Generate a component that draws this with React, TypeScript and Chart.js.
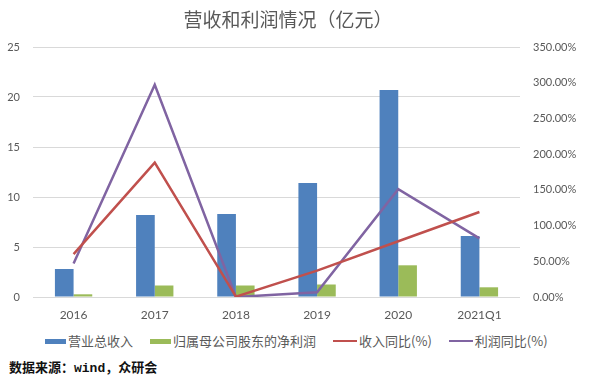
import React, { useEffect, useRef } from "react";
import { Chart, registerables } from "chart.js";

Chart.register(...registerables);

const titleText = "营收和利润情况（亿元）";
const sourceText = "数据来源：wind，众研会";
const categories = ["2016", "2017", "2018", "2019", "2020", "2021Q1"];
const revenue = [2.8, 8.2, 8.3, 11.4, 20.7, 6.1];
const netProfit = [0.27, 1.15, 1.15, 1.25, 3.17, 0.97];
const revenueYoY = [60, 188, 0.5, 37, 78, 119];
const profitYoY = [47, 297, 0, 6.6, 151, 82];
const leftTicks = [0, 5, 10, 15, 20, 25];
const rightTicks = [0, 50, 100, 150, 200, 250, 300, 350];
const seriesNames = ["营业总收入", "归属母公司股东的净利润", "收入同比(%)", "利润同比(%)"];
const seriesColors = ["#4F81BD", "#9BBB59", "#C0504D", "#8064A2"];
const seriesKinds = ["bar", "bar", "line", "line"];

const TEXT_GRAY = "#595959";
const AXIS_FONT = "Lato, 'Open Sans', sans-serif";
const CJK_FONT = "'Noto Sans CJK SC', 'Noto Sans', sans-serif";

export default function App() {
  const canvasRef = useRef<HTMLCanvasElement | null>(null);

  useEffect(() => {
    const canvas = canvasRef.current;
    if (!canvas) return;
    const chart = new Chart(canvas, {
      type: "bar",
      data: {
        labels: categories,
        datasets: [
          {
            type: "line",
            label: seriesNames[2],
            data: revenueYoY,
            yAxisID: "y1",
            borderColor: seriesColors[2],
            backgroundColor: seriesColors[2],
            borderWidth: 2.5,
            pointRadius: 0,
            tension: 0,
            order: 1,
          },
          {
            type: "line",
            label: seriesNames[3],
            data: profitYoY,
            yAxisID: "y1",
            borderColor: seriesColors[3],
            backgroundColor: seriesColors[3],
            borderWidth: 2.5,
            pointRadius: 0,
            tension: 0,
            order: 1,
          },
          {
            type: "bar",
            label: seriesNames[0],
            data: revenue,
            yAxisID: "y",
            backgroundColor: seriesColors[0],
            categoryPercentage: 0.46,
            barPercentage: 1.0,
            order: 2,
          },
          {
            type: "bar",
            label: seriesNames[1],
            data: netProfit,
            yAxisID: "y",
            backgroundColor: seriesColors[1],
            categoryPercentage: 0.46,
            barPercentage: 1.0,
            order: 2,
          },
        ],
      },
      options: {
        responsive: false,
        animation: false,
        devicePixelRatio: 1,
        layout: { padding: { top: 47, left: 0, right: 0, bottom: 0 } },
        plugins: {
          legend: { display: false },
          title: { display: false },
          tooltip: { enabled: false },
        },
        scales: {
          x: {
            grid: { display: false },
            border: { display: false },
            ticks: {
              color: TEXT_GRAY,
              font: { family: AXIS_FONT, size: 12 },
              padding: 3,
              maxRotation: 0,
              autoSkip: false,
            },
            afterFit: (s: any) => {
              s.height = 33;
            },
          },
          y: {
            position: "left",
            min: leftTicks[0],
            max: leftTicks[leftTicks.length - 1],
            afterBuildTicks: (s: any) => {
              s.ticks = leftTicks.map((v) => ({ value: v }));
            },
            grid: { color: "#d9d9d9", lineWidth: 1, drawTicks: false },
            border: { display: false },
            ticks: {
              color: TEXT_GRAY,
              font: { family: AXIS_FONT, size: 11 },
              padding: 13,
            },
            afterFit: (s: any) => {
              s.width = 33;
            },
          },
          y1: {
            position: "right",
            min: rightTicks[0],
            max: rightTicks[rightTicks.length - 1],
            afterBuildTicks: (s: any) => {
              s.ticks = rightTicks.map((v) => ({ value: v }));
            },
            grid: { display: false, drawTicks: false },
            border: { display: false },
            ticks: {
              color: TEXT_GRAY,
              font: { family: AXIS_FONT, size: 11 },
              padding: 13,
              callback: (v: any) => Number(v).toFixed(2) + "%",
            },
            afterFit: (s: any) => {
              s.width = 83;
            },
          },
        },
      },
    } as any);
    return () => chart.destroy();
  }, []);

  return (
    <div
      style={{
        position: "absolute",
        left: 0,
        top: 0,
        width: 603,
        height: 380,
        background: "#ffffff",
        overflow: "hidden",
      }}
    >
      <canvas
        ref={canvasRef}
        width={603}
        height={330}
        style={{ position: "absolute", left: 0, top: 0, width: 603, height: 330 }}
      />
      <div
        style={{
          position: "absolute",
          left: 0,
          top: 8,
          width: 576,
          textAlign: "center",
          fontFamily: CJK_FONT,
          fontSize: 19,
          lineHeight: "22px",
          color: TEXT_GRAY,
          whiteSpace: "nowrap",
        }}
      >
        {titleText}
      </div>
      <div
        style={{
          position: "absolute",
          left: 45,
          top: 333,
          height: 16,
          display: "flex",
          alignItems: "center",
          fontFamily: CJK_FONT,
          fontSize: 13,
          lineHeight: "16px",
          color: TEXT_GRAY,
          whiteSpace: "nowrap",
        }}
      >
        {seriesNames.map((name, i) => (
          <div key={name} style={{ display: "flex", alignItems: "center", marginRight: 17 }}>
            <span
              style={{
                display: "inline-block",
                width: seriesKinds[i] === "bar" ? 21 : 24,
                height: seriesKinds[i] === "bar" ? 5 : 2,
                background: seriesColors[i],
                marginRight: 2,
              }}
            />
            <span>{name}</span>
          </div>
        ))}
      </div>
      <div
        style={{
          position: "absolute",
          left: 9,
          top: 361,
          fontFamily: "'Liberation Mono', 'Noto Sans CJK SC', monospace",
          fontSize: 13,
          fontWeight: "bold",
          lineHeight: "16px",
          color: "#111111",
          whiteSpace: "nowrap",
        }}
      >
        {sourceText}
      </div>
    </div>
  );
}
